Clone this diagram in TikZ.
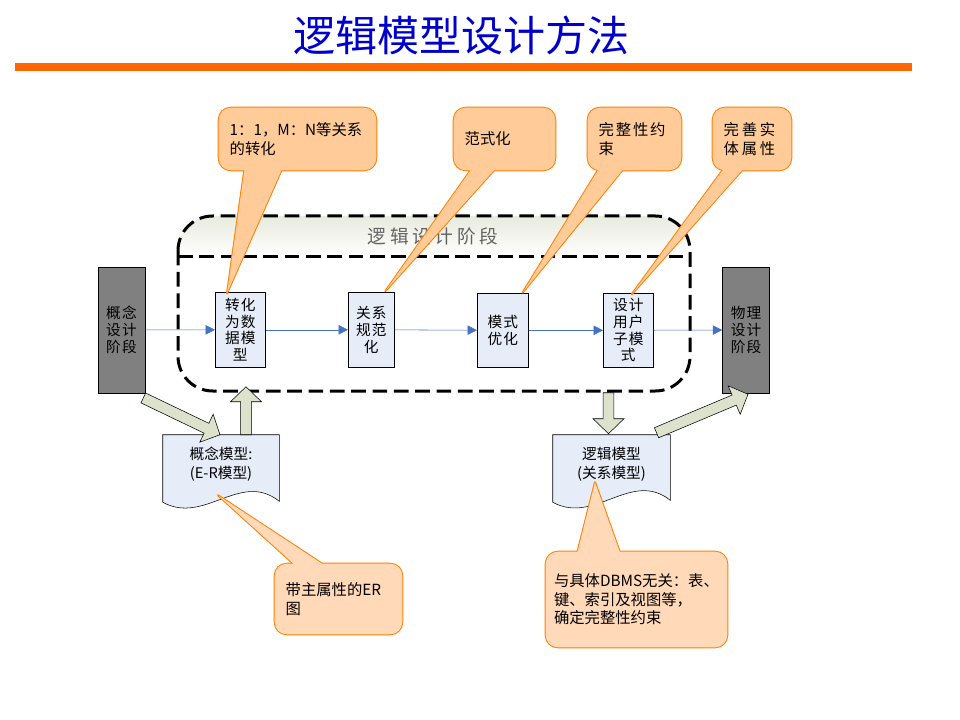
\documentclass[tikz,border=0pt]{standalone}
\usepackage{fontspec}
\setmainfont{Noto Sans CJK SC}
\usetikzlibrary{arrows.meta,calc}

\definecolor{titleblue}{RGB}{0,0,204}
\definecolor{rulecolor}{RGB}{255,102,0}
\definecolor{boxfill}{RGB}{230,236,248}
\definecolor{darkfill}{RGB}{128,128,128}
\definecolor{flowblue}{RGB}{68,114,196}
\definecolor{arrowfill}{RGB}{221,226,204}
\definecolor{notefill}{RGB}{255,204,153}
\definecolor{notelight}{RGB}{255,217,184}
\definecolor{noteorange}{RGB}{255,128,0}
\definecolor{bandtop}{RGB}{232,235,222}
\definecolor{bandtext}{RGB}{100,100,100}

\tikzset{every picture/.style={line width=0.75pt}}

\pgfdeclarelayer{back}
\pgfdeclarelayer{notes}
\pgfdeclarelayer{notetext}
\pgfsetlayers{back,main,notes,notetext}

% fat arrow from #1 to #2
\newcommand\blockarrow[2]{%
  \draw[fatarrow] ($(#1)!4.1pt!90:(#2)$) -- ($(#2)!11.25pt!(#1)!4.1pt!-90:(#1)$)
    -- ($(#2)!11.25pt!(#1)!11.6pt!-90:(#1)$) -- (#2)
    -- ($(#2)!11.25pt!(#1)!11.6pt!90:(#1)$) -- ($(#2)!11.25pt!(#1)!4.1pt!90:(#1)$)
    -- ($(#1)!4.1pt!-90:(#2)$) -- cycle;}

% callout box #2 with pointer #3--#5--#4
\newcommand\noteshape[5][notefill]{%
  \draw[noteline, rounded corners=9pt] (#2.south west) rectangle (#2.north east);
  \draw[noteline] (#3) -- (#5) -- (#4) -- cycle;
  \fill[#1, rounded corners=9pt] (#2.south west) rectangle (#2.north east);
  \fill[#1] (#3) -- (#5) -- (#4) -- cycle;}

\begin{document}
\begin{tikzpicture}[x=0.75pt,y=0.75pt,yscale=-1,xscale=1,
  stage/.style={draw, fill=darkfill, minimum width=35.25pt, minimum height=94.5pt, inner sep=0pt, align=center, font=\fontsize{11}{12.75}\selectfont\addfontfeature{LetterSpace=8}},
  procbox/.style={draw, fill=boxfill, minimum height=56pt, inner sep=0pt, align=center, font=\fontsize{11}{12.5}\selectfont\addfontfeature{LetterSpace=8}},
  flow/.style={draw=flowblue, -{Triangle[length=7pt,width=7pt]}},
  docnode/.style={minimum width=87pt, minimum height=43.5pt, inner sep=0pt, align=center, font=\fontsize{11}{14}\selectfont},
  docshape/.style={draw, fill=boxfill},
  fatarrow/.style={draw, fill=arrowfill},
  note/.style={align=left, inner xsep=8pt, inner ysep=0pt, font=\fontsize{11.5}{14}\selectfont},
  noteline/.style={draw=noteorange, line width=1.5pt, line join=round},
  stageframe/.style={line width=2.25pt, dash pattern=on 11pt off 5pt}]
  \useasboundingbox (0,0) rectangle (960,720);

  % title and rule
  \node[font=\fontsize{31.5}{36}\selectfont, text=titleblue] (title) at (461.5,35) {逻辑模型设计方法};
  \fill[rulecolor] (15,63.5) rectangle (912,71.5);

  % logic design frame
  \begin{pgfonlayer}{back}
    \begin{scope}
      \clip[rounded corners=26pt] (178,216) rectangle (690,391);
      \shade[top color=bandtop, bottom color=white] (178,216) rectangle (690,257);
    \end{scope}
    \draw[stageframe, rounded corners=26pt] (178,216) rectangle (690,391);
    \draw[stageframe] (178,257) -- (690,257);
    \node[font=\fontsize{14}{16}\selectfont\addfontfeature{LetterSpace=20}, text=bandtext] (band) at (433,236.5) {逻辑设计阶段};
  \end{pgfonlayer}

  % stages
  \node[stage] (concept) at (121.5,330) {概念\\设计\\阶段};
  \node[stage] (physical) at (746,330) {物理\\设计\\阶段};

  % steps
  \node[procbox, minimum width=37.5pt] (p1) at (240.3,329.8) {转化\\为数\\据模\\型};
  \node[procbox, minimum width=34.5pt] (p2) at (371.3,329.8) {关系\\规范\\化};
  \node[procbox, minimum width=38.25pt] (p3) at (502.8,330.3) {模式\\优化};
  \node[procbox, minimum width=37.5pt] (p4) at (628.3,330.3) {设计\\用户\\子模\\式};

  \draw[flow] (concept) -- (p1);
  \draw[flow] (p1) -- (p2);
  \draw[flow] (p2) -- (p3);
  \draw[flow] (p3) -- (p4);
  \draw[flow] (p4) -- (physical);

  % documents
  \node[docnode] (d1) at (221,464) {概念模型:\\(E-R模型)};
  \node[docnode, minimum width=87.75pt] (d2) at (611.5,464) {逻辑模型\\(关系模型)};
  \begin{pgfonlayer}{back}
    \draw[docshape] (d1.north west) -- (d1.north east) -- ($(d1.south east)+(0,8)$)
      .. controls ($(d1.south east)+(-39,-23)$) and ($(d1.south west)+(42,32)$) .. ($(d1.south west)+(0,9)$) -- cycle;
    \draw[docshape] (d2.north west) -- (d2.north east) -- ($(d2.south east)+(0,7)$)
      .. controls ($(d2.south east)+(-39,-24)$) and ($(d2.south west)+(42,32)$) .. ($(d2.south west)+(0,9)$) -- cycle;
  \end{pgfonlayer}

  % fat arrows
  \coordinate (a1s) at ($(concept.south)+(21.8,4.7)$);
  \coordinate (a1e) at ($(d1.north)+(-1,0)$);
  \coordinate (a2s) at ($(d1.north)+(25,0)$);
  \coordinate (a2e) at ($(d1.north)+(25,-48)$);
  \coordinate (a3s) at ($(d2.north)+(-3,-42)$);
  \coordinate (a3e) at ($(d2.north)+(-3,-1)$);
  \coordinate (a4s) at ($(d2.north east)+(-13.75,-2)$);
  \coordinate (a4e) at ($(physical.south)+(2,1)$);
  \blockarrow{a1s}{a1e}
  \blockarrow{a2s}{a2e}
  \blockarrow{a3s}{a3e}
  \blockarrow{a4s}{a4e}

  % callouts
  \begin{pgfonlayer}{notetext}
    \node[note, text width=101.75pt, minimum height=46.5pt] (c1) at (297.5,139) {1：1，M：N等关系\\的转化};
    \node[note, text width=59.75pt, minimum height=46.5pt] (c2) at (504.5,139) {范式化};
    \node[note, text width=53.75pt, minimum height=46.5pt, font=\fontsize{11.5}{14}\selectfont\addfontfeature{LetterSpace=12}] (c3) at (634.5,139) {完整性约\\束};
    \node[note, text width=42.5pt, minimum height=46.5pt, font=\fontsize{11.5}{14}\selectfont\addfontfeature{LetterSpace=18}] (c4) at (752,139) {完善实\\体属性};
    \node[note, text width=79.25pt, minimum height=52.5pt] (c5) at (338.5,599) {带主属性的ER\\图};
    \node[note, inner xsep=6pt, text width=123.75pt, minimum height=71.25pt] (c6) at (636.5,599.5) {与具体DBMS无关：表、\\键、索引及视图等，\\确定完整性约束};
  \end{pgfonlayer}

  \coordinate (c1a) at ($(c1.south west)+(26,-3)$);
  \coordinate (c1b) at ($(c1.south west)+(64,-3)$);
  \coordinate (c1t) at ($(p1.north west)+(12,1)$);
  \coordinate (c2a) at ($(c2.south west)+(19,-3)$);
  \coordinate (c2b) at ($(c2.south west)+(43,-3)$);
  \coordinate (c2t) at ($(p2.north)+(14,-1)$);
  \coordinate (c3a) at ($(c3.south west)+(12,-3)$);
  \coordinate (c3b) at ($(c3.south west)+(37,-3)$);
  \coordinate (c3t) at ($(p3.north east)+(-6,0)$);
  \coordinate (c4a) at ($(c4.south west)+(12,-3)$);
  \coordinate (c4b) at ($(c4.south west)+(32,-3)$);
  \coordinate (c4t) at ($(p4.north)+(3.5,1.5)$);
  \coordinate (c5a) at ($(c5.north west)+(22,3)$);
  \coordinate (c5b) at ($(c5.north west)+(52,3)$);
  \coordinate (c5t) at ($(d1.south)+(-3,2)$);
  \coordinate (c6a) at ($(c6.north west)+(31,3)$);
  \coordinate (c6b) at ($(c6.north west)+(75,3)$);
  \coordinate (c6t) at ($(d2.south)+(-16.5,-11)$);

  \begin{pgfonlayer}{notes}
    \noteshape{c1}{c1a}{c1b}{c1t}
    \noteshape{c2}{c2a}{c2b}{c2t}
    \noteshape{c3}{c3a}{c3b}{c3t}
    \noteshape{c4}{c4a}{c4b}{c4t}
    \noteshape[notelight]{c5}{c5a}{c5b}{c5t}
    \noteshape[notelight]{c6}{c6a}{c6b}{c6t}
  \end{pgfonlayer}
\end{tikzpicture}
\end{document}
